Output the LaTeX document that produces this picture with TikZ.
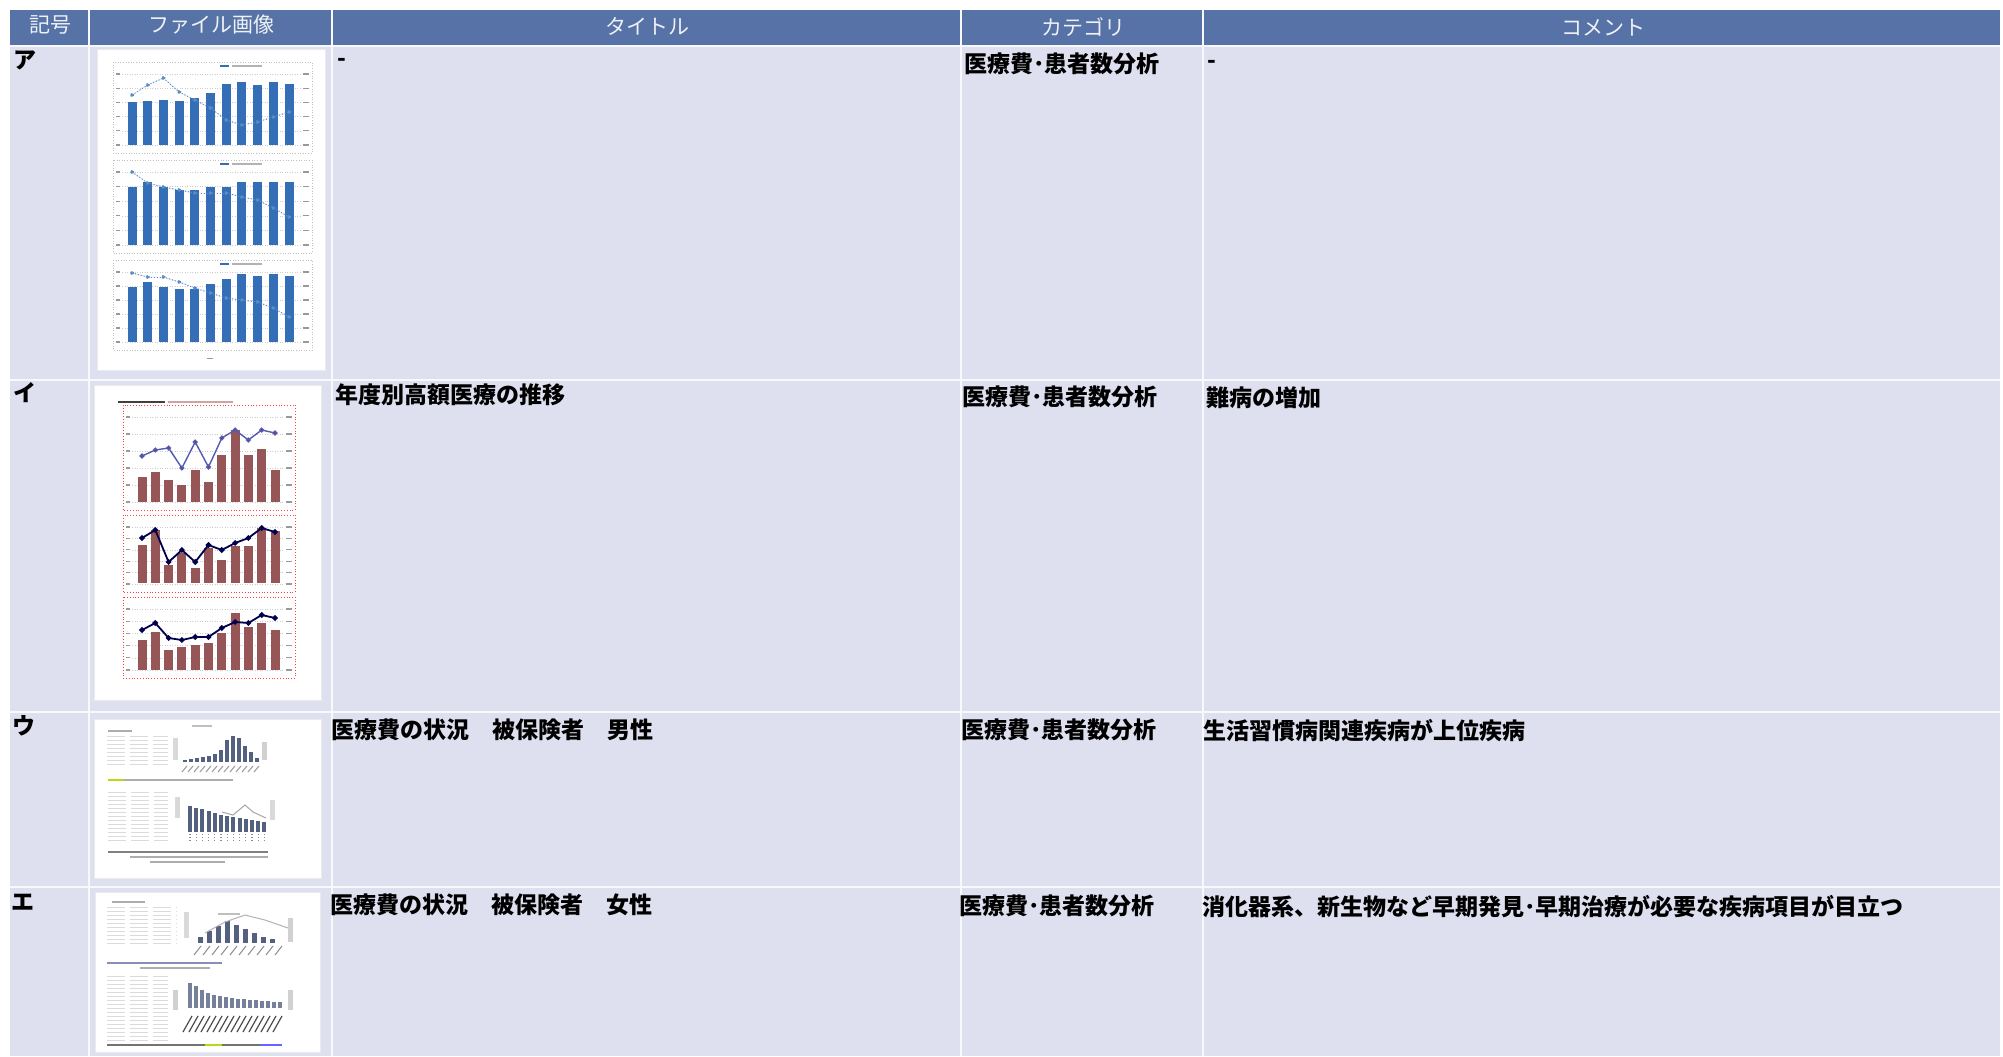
\documentclass[tikz,border=0pt]{standalone}
\usepackage{fontspec}
\setmainfont{Noto Sans CJK JP}
\usepackage{tikz}
\usetikzlibrary{calc}
\definecolor{hdrblue}{RGB}{86,114,166}
\definecolor{cellbg}{RGB}{222,223,239}
\definecolor{barblue}{RGB}{52,110,182}
\definecolor{barred}{RGB}{150,86,88}
\definecolor{slate}{RGB}{84,96,128}
\definecolor{lineviolet}{RGB}{84,92,176}
\tikzstyle{hdr}=[text=white!90!hdrblue, font=\fontsize{10.5}{12}\selectfont, inner sep=0pt, anchor=center]
\tikzstyle{cell}=[font=\bfseries\fontsize{11.5}{13}\selectfont, inner sep=0pt, anchor=west]
\tikzstyle{sepline}=[draw=white!80!cellbg, line width=1.4pt]
\tikzstyle{thumb}=[fill=white, draw=black!8, line width=0.4pt]
\tikzstyle{frameA}=[draw=black!25, densely dotted, line width=0.3pt]
\tikzstyle{frameB}=[draw=red!75, densely dotted, line width=0.4pt]
\tikzstyle{gridl}=[draw=black!20, densely dotted, line width=0.25pt]
\tikzstyle{tblline}=[draw=black!14, line width=0.45pt, dash pattern=on 9pt off 2.5pt]
\tikzstyle{txtline}=[draw=black!32, line width=0.9pt]
\tikzstyle{ptblue}=[draw=barblue!80, fill=barblue!80, densely dotted, line width=0.5pt]
\tikzstyle{ptred}=[draw=lineviolet, fill=red!70!black, line width=0.7pt]
\tikzstyle{ptnavy}=[draw=blue!30!black, fill=blue!30!black, line width=0.9pt]

% bars: first centre x, bottom y, step, width, colour, heights
\newcommand{\barpanel}[6]
{
  \foreach \h [count=\i] in {#6}
    \fill[#5] ({#1+(\i-1)*#3-#4/2},#2) rectangle ++(#4,-\h);
}
% polyline with dots: first x, step, style, y values
\newcommand{\linepanel}[4]
{
  \foreach \v [count=\i, remember=\v as \lastv (initially 0)] in {#4}{
    \ifnum\i>1 \draw[#3] ({#1+(\i-2)*#2},\lastv) -- ({#1+(\i-1)*#2},\v); \fi
    \fill[#3] ({#1+(\i-1)*#2},\v) circle (0.9pt);
  }
}
% grid, ticks and axis labels of one small chart
\newcommand{\chartframe}[5]
{
  \draw[#5] (#1,#2) rectangle (#3,#4);
  \foreach \g in {0,...,5}
    \draw[gridl] ({#1+9},{#4-8-\g*(#4-#2-20)/5}) -- ({#3-12},{#4-8-\g*(#4-#2-20)/5});
  \foreach \g in {0,...,5}{
    \draw[black!40, line width=0.6pt] ({#1+3},{#4-8-\g*(#4-#2-20)/5}) -- ++(4,0);
    \draw[black!40, line width=0.6pt] ({#3-9},{#4-8-\g*(#4-#2-20)/5}) -- ++(6,0);
  }
}
\newcommand{\thumbA}[0]
{
  \fill[thumb] (97,49) rectangle (325,370);
  \chartframe{113}{62}{312}{153}{frameA}
  \chartframe{113}{160}{312}{253}{frameA}
  \chartframe{113}{260}{312}{350}{frameA}
  \barpanel{132}{145}{15.7}{9}{barblue}{43,44,45,44,47,52,61,63,60,63,61}
  \barpanel{132}{245}{15.7}{9}{barblue}{58,63,58,55,55,58,58,63,63,63,63}
  \barpanel{132}{342}{15.7}{9}{barblue}{55,60,55,53,53,58,63,68,66,68,66}
  \linepanel{132}{15.7}{ptblue}{95,85,78,92,100,108,120,125,122,117,112}
  \linepanel{132}{15.7}{ptblue}{172,183,187,190,193,193,193,197,200,208,217}
  \linepanel{132}{15.7}{ptblue}{273,277,277,282,288,293,298,300,302,308,317}
  \foreach \y in {67,165,265}{
    \fill[barblue] (220,\y) rectangle ++(9,-2);
    \draw[txtline, black!30] (232,\y-1) -- ++(30,0);
  }
  \draw[black!40] (207,358) -- (213,358);
}
\newcommand{\thumbB}[0]
{
  \fill[thumb] (94,385) rectangle (321,700);
  \draw[black!75, line width=1.2pt] (118,402) -- (165,402);
  \draw[red!40!black!35, line width=0.9pt] (168,402) -- (233,402);
  \chartframe{123}{405}{295}{510}{frameB}
  \chartframe{123}{515}{295}{592}{frameB}
  \chartframe{123}{597}{295}{678}{frameB}
  \barpanel{142}{502}{13.3}{9}{barred}{25,30,22,17,32,20,47,72,47,53,32}
  \barpanel{142}{583}{13.3}{9}{barred}{38,53,18,30,15,35,23,37,37,55,52}
  \barpanel{142}{670}{13.3}{9}{barred}{30,38,20,23,25,27,37,57,43,47,40}
  \linepanel{142}{13.3}{ptred}{456,450,448,468,442,467,438,430,440,430,433}
  \linepanel{142}{13.3}{ptnavy}{538,530,562,550,562,545,550,543,538,528,532}
  \linepanel{142}{13.3}{ptnavy}{630,623,638,640,637,637,628,622,623,615,618}
}
\newcommand{\thumbC}[0]
{
  \fill[thumb] (94,719) rectangle (321,878);
  \draw[txtline, black!25] (192,726) -- (212,726);
  \draw[txtline] (108,731) -- (132,731);
  \foreach \r in {0,...,7} \draw[tblline] (107,736+4*\r) -- (168,736+4*\r);
  \draw[black!15, line width=2.5pt] (175,738) -- (175,760);
  \barpanel{185}{762}{6}{4}{slate}{2,3,4,5,6,8,12,22,26,24,16,10,4}
  \foreach \i in {0,...,12} \draw[black!40, line width=0.5pt] (182+6*\i,772) -- ++(5,-6);
  \draw[black!18, line width=2.5pt] (264,742) -- (264,760);
  \draw[txtline] (108,780) -- (233,780);
  \draw[yellow!70!green, line width=1.2pt] (108,780) -- (124,780);
  \foreach \r in {0,...,12} \draw[tblline] (108,792+4*\r) -- (168,792+4*\r);
  \draw[black!15, line width=2.5pt] (177,797) -- (177,818);
  \barpanel{190}{832}{6.2}{4}{slate}{26,24,23,21,19,17,16,15,14,13,12,11,10}
  \foreach \i in {0,...,12} \draw[black!45, densely dotted, line width=0.6pt] (190+6.2*\i,834) -- ++(0,7);
  \draw[black!35, line width=0.5pt] (222,812) -- (233,815) -- (245,805) -- (253,812) -- (266,818);
  \draw[black!15, line width=2.5pt] (272,800) -- (272,820);
  \draw[txtline, black!50] (108,852) -- (268,852);
  \draw[txtline] (130,857) -- (268,857);
  \draw[txtline] (150,862) -- (225,862);
}
\newcommand{\thumbD}[0]
{
  \fill[thumb] (95,892) rectangle (320,1052);
  \draw[txtline] (112,902) -- (145,902);
  \foreach \r in {0,...,9} \draw[tblline] (107,907+4*\r) -- (177,907+4*\r);
  \draw[black!15, line width=2.5pt] (186,912) -- (186,938);
  \barpanel{200}{943}{9}{5}{slate}{6,12,17,22,18,14,10,6,4}
  \draw[black!30, line width=0.5pt] (205,933) -- (225,922) -- (245,915) -- (265,920) -- (288,928);
  \foreach \i in {0,...,9} \draw[black!45, line width=0.5pt] (194+9*\i,955) -- ++(7,-9);
  \draw[txtline, black!25] (218,914) -- (240,914);
  \draw[black!18, line width=2.5pt] (290,918) -- (290,942);
  \draw[txtline, blue!40!black!45] (107,963) -- (222,963);
  \draw[txtline] (140,968) -- (210,968);
  \foreach \r in {0,...,16} \draw[tblline] (107,976+4*\r) -- (168,976+4*\r);
  \draw[black!18, line width=2.5pt] (175,990) -- (175,1010);
  \barpanel{190}{1008}{6}{3.5}{slate!80}{25,22,18,15,13,12,11,10,9,9,8,8,7,7,6,6}
  \foreach \i in {0,...,15} \draw[black!70, line width=0.6pt] (183+6*\i,1032) -- ++(9,-16);
  \draw[black!18, line width=2.5pt] (290,990) -- (290,1010);
  \draw[txtline, black!55] (107,1045) -- (282,1045);
  \draw[yellow!70!green, line width=1.2pt] (205,1045) -- (222,1045);
  \draw[blue!60, line width=1.2pt] (260,1045) -- (282,1045);
}

\begin{document}
\begin{tikzpicture}[x=0.5pt,y=-0.5pt]
	\useasboundingbox (0,0) rectangle (2003,1056);
	\fill[white] (0,0) rectangle (2003,1056);
	\fill[hdrblue] (10,10) rectangle (2000,45);
	\fill[cellbg] (10,45) rectangle (2000,1056);
	\foreach \x in {89,332,961,1203} \draw[sepline] (\x,10) -- (\x,1056);
	\foreach \y in {46,380,712,887} \draw[sepline] (10,\y) -- (2000,\y);

	\node[hdr](hdMark) at (50,25){記号};
	\node[hdr](hdImage) at (211,25){ファイル画像};
	\node[hdr](hdTitle) at (647,26){タイトル};
	\node[hdr](hdCat) at (1083,27){カテゴリ};
	\node[hdr](hdComment) at (1603,28){コメント};

	\thumbA{}
	\thumbB{}
	\thumbC{}
	\thumbD{}

	\node[cell](markA) at (13,60){ア};
	\node[cell](titleA) at (337,62){-};
	\node[cell](catA) at (964,64){医療費･患者数分析};
	\node[cell](commentA) at (1207,64){-};

	\node[cell](markB) at (13,393){イ};
	\node[cell](titleB) at (335,395){年度別高額医療の推移};
	\node[cell](catB) at (962,397){医療費･患者数分析};
	\node[cell](commentB) at (1206,398){難病の増加};

	\node[cell](markC) at (12,726){ウ};
	\node[cell](titleC) at (331,730){医療費の状況　被保険者　男性};
	\node[cell](catC) at (961,730){医療費･患者数分析};
	\node[cell](commentC) at (1203,731){生活習慣病関連疾病が上位疾病};

	\node[cell](markD) at (11,902){エ};
	\node[cell](titleD) at (330,905){医療費の状況　被保険者　女性};
	\node[cell](catD) at (959,906){医療費･患者数分析};
	\node[cell](commentD) at (1202,907){消化器系、新生物など早期発見･早期治療が必要な疾病項目が目立つ};
\end{tikzpicture}
\end{document}
